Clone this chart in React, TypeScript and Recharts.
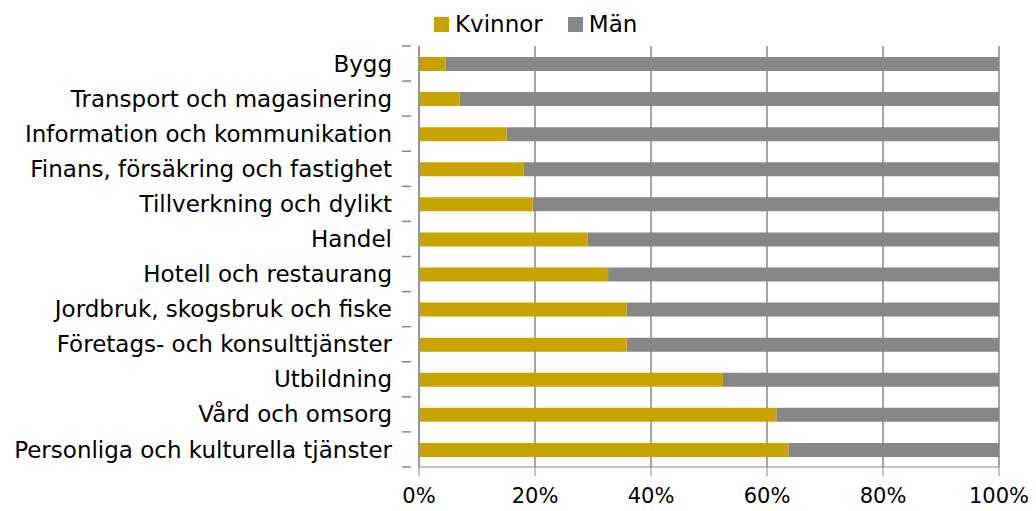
import { BarChart, Bar, XAxis, YAxis, CartesianGrid, Legend } from "recharts";

const categories = [
  "Bygg",
  "Transport och magasinering",
  "Information och kommunikation",
  "Finans, försäkring och fastighet",
  "Tillverkning och dylikt",
  "Handel",
  "Hotell och restaurang",
  "Jordbruk, skogsbruk och fiske",
  "Företags- och konsulttjänster",
  "Utbildning",
  "Vård och omsorg",
  "Personliga och kulturella tjänster",
];

const kvinnor = [4.6, 7.0, 15.1, 18.0, 19.6, 29.1, 32.6, 35.8, 35.8, 52.4, 61.6, 63.7];
const man = kvinnor.map((v) => 100 - v);

const xTicks = [0, 20, 40, 60, 80, 100];

const data = categories.map((name, i) => ({ name, Kvinnor: kvinnor[i], Man: man[i] }));

const GOLD = "#c8a400";
const GRAY = "#878787";
const FONT = "Tahoma, 'DejaVu Sans', sans-serif";

const W = 1020;
const H = 503;
const M = { top: 38, right: 29, bottom: 0, left: 0 };
const Y_W = 411;
const X_H = 44;
const half = (H - M.top - M.bottom - X_H) / categories.length / 2;

const CatTick = (props: any) => {
  const { x, y, payload, index } = props;
  return (
    <g>
      <line x1={x - 9} x2={x} y1={y + half} y2={y + half} stroke={GRAY} strokeWidth={1.5} />
      {index === 0 && (
        <line x1={x - 9} x2={x} y1={y - half} y2={y - half} stroke={GRAY} strokeWidth={1.5} />
      )}
      <text x={x - 19} y={y} dy="0.35em" textAnchor="end" fontSize={23} fill="#000" fontFamily={FONT}>
        {payload.value}
      </text>
    </g>
  );
};

const LegendContent = () => (
  <div style={{ display: "flex", alignItems: "center", fontFamily: FONT, fontSize: 23, color: "#000", whiteSpace: "nowrap" }}>
    <span style={{ width: 15, height: 15, background: GOLD, display: "inline-block", marginRight: 6 }} />
    <span style={{ marginRight: 25 }}>Kvinnor</span>
    <span style={{ width: 15, height: 15, background: GRAY, display: "inline-block", marginRight: 6 }} />
    <span>Män</span>
  </div>
);

export default function App() {
  return (
    <BarChart width={W} height={H} data={data} layout="vertical" margin={M} barSize={14}>
      <CartesianGrid horizontal={false} stroke={GRAY} strokeWidth={1.5} />
      <XAxis
        type="number"
        domain={[0, 100]}
        ticks={xTicks}
        tickFormatter={(v) => `${v}%`}
        height={X_H}
        tickSize={9}
        tickMargin={12}
        stroke={GRAY}
        tick={{ fill: "#000", fontSize: 21, fontFamily: FONT }}
        interval={0}
      />
      <YAxis
        type="category"
        dataKey="name"
        width={Y_W}
        tick={<CatTick />}
        tickLine={false}
        stroke={GRAY}
        interval={0}
      />
      <Legend
        verticalAlign="middle"
        content={<LegendContent />}
        wrapperStyle={{ top: 3, left: 426, width: "auto", height: "auto" }}
      />
      <Bar dataKey="Kvinnor" stackId="a" fill={GOLD} isAnimationActive={false} />
      <Bar dataKey="Man" name="Män" stackId="a" fill={GRAY} isAnimationActive={false} />
    </BarChart>
  );
}
